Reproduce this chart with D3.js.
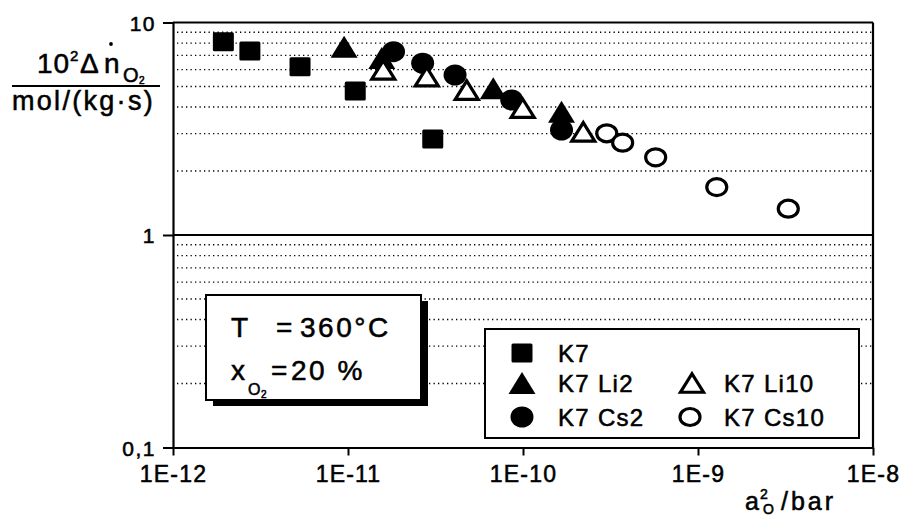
<!DOCTYPE html>
<html>
<head>
<meta charset="utf-8">
<script src="https://d3js.org/d3.v7.min.js"></script>
<style>
  html, body { margin: 0; padding: 0; background: #fff; }
  svg { display: block; }
  text {
    font-family: "Liberation Sans", Arial, Helvetica, sans-serif;
    fill: #000; stroke: #000; stroke-width: 0.55px;
  }
</style>
</head>
<body>
<svg id="chart" width="903" height="518"></svg>
<script>
// Oxygen uptake rate vs. oxygen activity, K7 catalysts doped with Li / Cs
const k7X   = [1.94e-12, 2.75e-12, 5.32e-12, 1.10e-11, 3.05e-11];
const k7Y   = [8.12, 7.34, 6.19, 4.76, 2.83];

const li2X  = [9.5e-12, 1.56e-11, 6.76e-11, 1.66e-10];
const li2Y  = [7.69, 6.81, 4.90, 3.80];

const cs2X  = [1.82e-11, 2.67e-11, 4.09e-11, 8.62e-11, 1.66e-10];
const cs2Y  = [7.29, 6.43, 5.66, 4.32, 3.12];

const li10X = [1.59e-11, 2.82e-11, 4.77e-11, 9.96e-11, 2.21e-10];
const li10Y = [5.98, 5.56, 4.81, 3.95, 3.06];

const cs10X = [3.01e-10, 3.71e-10, 5.73e-10, 1.28e-9, 3.28e-9];
const cs10Y = [3.01, 2.72, 2.32, 1.68, 1.33];

const xTickValues = [1e-12, 1e-11, 1e-10, 1e-9, 1e-8];
const xTickLabels = ["1E-12", "1E-11", "1E-10", "1E-9", "1E-8"];
const yTickValues = [0.1, 1, 10];
const yTickLabels = ["0,1", "1", "10"];

const seriesNames = ["K7", "K7 Li2", "K7 Li10", "K7 Cs2", "K7 Cs10"];

const svg = d3.select("#chart");
const plot = { left: 173, right: 873, top: 22.5, bottom: 447.5 };

const x = d3.scaleLog().domain([1e-12, 1e-8]).range([plot.left, plot.right]);
const y = d3.scaleLog().domain([0.1, 10]).range([plot.bottom, plot.top]);

// minor grid: dotted lines at 2..9 of each decade, solid at 1
const minor = y.ticks().filter(v => {
  const l = Math.log10(v);
  return Math.abs(l - Math.round(l)) > 1e-6;
});
svg.append("g").selectAll("line").data(minor).join("line")
  .attr("x1", plot.left + 4).attr("x2", plot.right)
  .attr("y1", d => y(d)).attr("y2", d => y(d))
  .attr("stroke", "#000").attr("stroke-width", 1.4)
  .attr("stroke-dasharray", "1.3 3.2");

svg.append("line")
  .attr("x1", plot.left).attr("x2", plot.right)
  .attr("y1", y(1)).attr("y2", y(1))
  .attr("stroke", "#000").attr("stroke-width", 2);

// frame: top and right borders
svg.append("line")
  .attr("x1", plot.left).attr("x2", plot.right)
  .attr("y1", y(10)).attr("y2", y(10))
  .attr("stroke", "#000").attr("stroke-width", 2.2);
svg.append("line")
  .attr("x1", plot.right).attr("x2", plot.right)
  .attr("y1", y(10)).attr("y2", y(0.1))
  .attr("stroke", "#000").attr("stroke-width", 2.2);

// axes
const xAxis = svg.append("g")
  .attr("transform", `translate(0,${plot.bottom})`)
  .call(d3.axisBottom(x).tickValues(xTickValues)
    .tickFormat((d, i) => xTickLabels[i]).tickSize(8).tickSizeOuter(0));
xAxis.select(".domain").attr("stroke-width", 2.2);
xAxis.selectAll(".tick line").attr("stroke-width", 2);
xAxis.selectAll(".tick text")
  .attr("y", 18).attr("dy", "0.71em")
  .style("font-size", "23px").style("letter-spacing", "1.2px");

const yAxis = svg.append("g")
  .attr("transform", `translate(${plot.left},0)`)
  .call(d3.axisLeft(y).tickValues(yTickValues)
    .tickFormat((d, i) => yTickLabels[i]).tickSize(10).tickSizeOuter(0));
yAxis.select(".domain").attr("stroke-width", 2.2);
yAxis.selectAll(".tick line").attr("stroke-width", 2);
yAxis.selectAll(".tick text")
  .attr("x", -17).attr("dy", "0.36em")
  .style("font-size", "21px").style("letter-spacing", "1.5px");

// annotation box with drop shadow
const box = { x: 206, y: 295, w: 215, h: 105 };
svg.append("rect").attr("x", box.x + 7).attr("y", box.y + 6)
  .attr("width", box.w).attr("height", box.h).attr("fill", "#000");
svg.append("rect").attr("x", box.x).attr("y", box.y)
  .attr("width", box.w).attr("height", box.h)
  .attr("fill", "#fff").attr("stroke", "#000").attr("stroke-width", 2);

const note = svg.append("g").style("font-size", "28px");
note.append("text").attr("x", 231).attr("y", 337).text("T");
note.append("text").attr("x", 276).attr("y", 337).text("=");
note.append("text").attr("x", 300).attr("y", 337).style("letter-spacing", "2.5px").text("360°C");
note.append("text").attr("x", 231).attr("y", 380).text("x");
note.append("text").attr("x", 248).attr("y", 395).style("font-size", "16px").text("O");
note.append("text").attr("x", 261).attr("y", 398).style("font-size", "10px").text("2");
note.append("text").attr("x", 271).attr("y", 380).text("=");
note.append("text").attr("x", 291).attr("y", 380).style("letter-spacing", "2.5px").text("20 %");

// marker painters (centred on scaled data point)
function tri(w, h) {
  return `M0,${-h / 2}L${w / 2},${h / 2}L${-w / 2},${h / 2}Z`;
}
const painters = {
  square: (g) => g.append("rect").attr("x", -10.5).attr("y", -9.5)
    .attr("width", 21).attr("height", 19).attr("rx", 1.5).attr("fill", "#000"),
  triFilled: (g) => g.append("path").attr("d", tri(27, 22)).attr("fill", "#000"),
  triOpen: (g) => g.append("path").attr("d", tri(23, 18.5))
    .attr("fill", "#fff").attr("stroke", "#000").attr("stroke-width", 3.2)
    .attr("stroke-linejoin", "miter"),
  dotFilled: (g) => g.append("ellipse").attr("rx", 11.5).attr("ry", 10.5).attr("fill", "#000"),
  dotOpen: (g) => g.append("ellipse").attr("rx", 10).attr("ry", 8.5)
    .attr("fill", "#fff").attr("stroke", "#000").attr("stroke-width", 3.2)
};

const series = [
  { xs: k7X,   ys: k7Y,   mark: "square" },
  { xs: li2X,  ys: li2Y,  mark: "triFilled" },
  { xs: cs2X,  ys: cs2Y,  mark: "dotFilled" },
  { xs: li10X, ys: li10Y, mark: "triOpen" },
  { xs: cs10X, ys: cs10Y, mark: "dotOpen" }
];

const marks = svg.append("g");
series.forEach(s => {
  s.xs.forEach((xv, i) => {
    const g = marks.append("g").attr("transform", `translate(${x(xv)},${y(s.ys[i])})`);
    painters[s.mark](g);
  });
});

// legend
const lg = svg.append("g");
lg.append("rect").attr("x", 485).attr("y", 329).attr("width", 374).attr("height", 109)
  .attr("fill", "#fff").attr("stroke", "#000").attr("stroke-width", 2);
const legendItems = [
  { name: seriesNames[0], mark: "square",    mx: 522, tx: 558, cy: 353 },
  { name: seriesNames[1], mark: "triFilled", mx: 522, tx: 558, cy: 383 },
  { name: seriesNames[2], mark: "triOpen",   mx: 692, tx: 724, cy: 383 },
  { name: seriesNames[3], mark: "dotFilled", mx: 522, tx: 558, cy: 417 },
  { name: seriesNames[4], mark: "dotOpen",   mx: 690, tx: 724, cy: 417 }
];
legendItems.forEach(it => {
  const g = lg.append("g").attr("transform", `translate(${it.mx},${it.cy})`);
  painters[it.mark](g);
  lg.append("text").attr("x", it.tx).attr("y", it.cy + 9)
    .style("font-size", "24px").style("letter-spacing", "1.3px").text(it.name);
});

// y-axis title as a fraction
const yt = svg.append("g");
yt.append("text").attr("x", 37).attr("y", 73).style("font-size", "28px").style("letter-spacing", "1px").text("10");
yt.append("text").attr("x", 70).attr("y", 61).style("font-size", "15px").text("2");
yt.append("text").attr("x", 80).attr("y", 73).style("font-size", "28px").text("Δ");
yt.append("text").attr("x", 104).attr("y", 73).style("font-size", "28px").text("n");
yt.append("circle").attr("cx", 111).attr("cy", 44).attr("r", 1.9).attr("fill", "#000");
yt.append("text").attr("x", 123).attr("y", 82).style("font-size", "20px").text("O");
yt.append("text").attr("x", 139).attr("y", 84).style("font-size", "10px").text("2");
yt.append("line").attr("x1", 12).attr("x2", 160).attr("y1", 86).attr("y2", 86)
  .attr("stroke", "#000").attr("stroke-width", 2);
yt.append("text").attr("x", 12).attr("y", 110).style("font-size", "27px").style("letter-spacing", "2.3px")
  .text("mol/(kg·s)");

// x-axis title
const xt = svg.append("g");
xt.append("text").attr("x", 745).attr("y", 510).style("font-size", "25px").text("a");
xt.append("text").attr("x", 760).attr("y", 499).style("font-size", "14px").text("2");
xt.append("text").attr("x", 763).attr("y", 514).style("font-size", "14px").text("O");
xt.append("text").attr("x", 781).attr("y", 510).style("font-size", "25px").style("letter-spacing", "3px").text("/bar");
</script>
</body>
</html>
